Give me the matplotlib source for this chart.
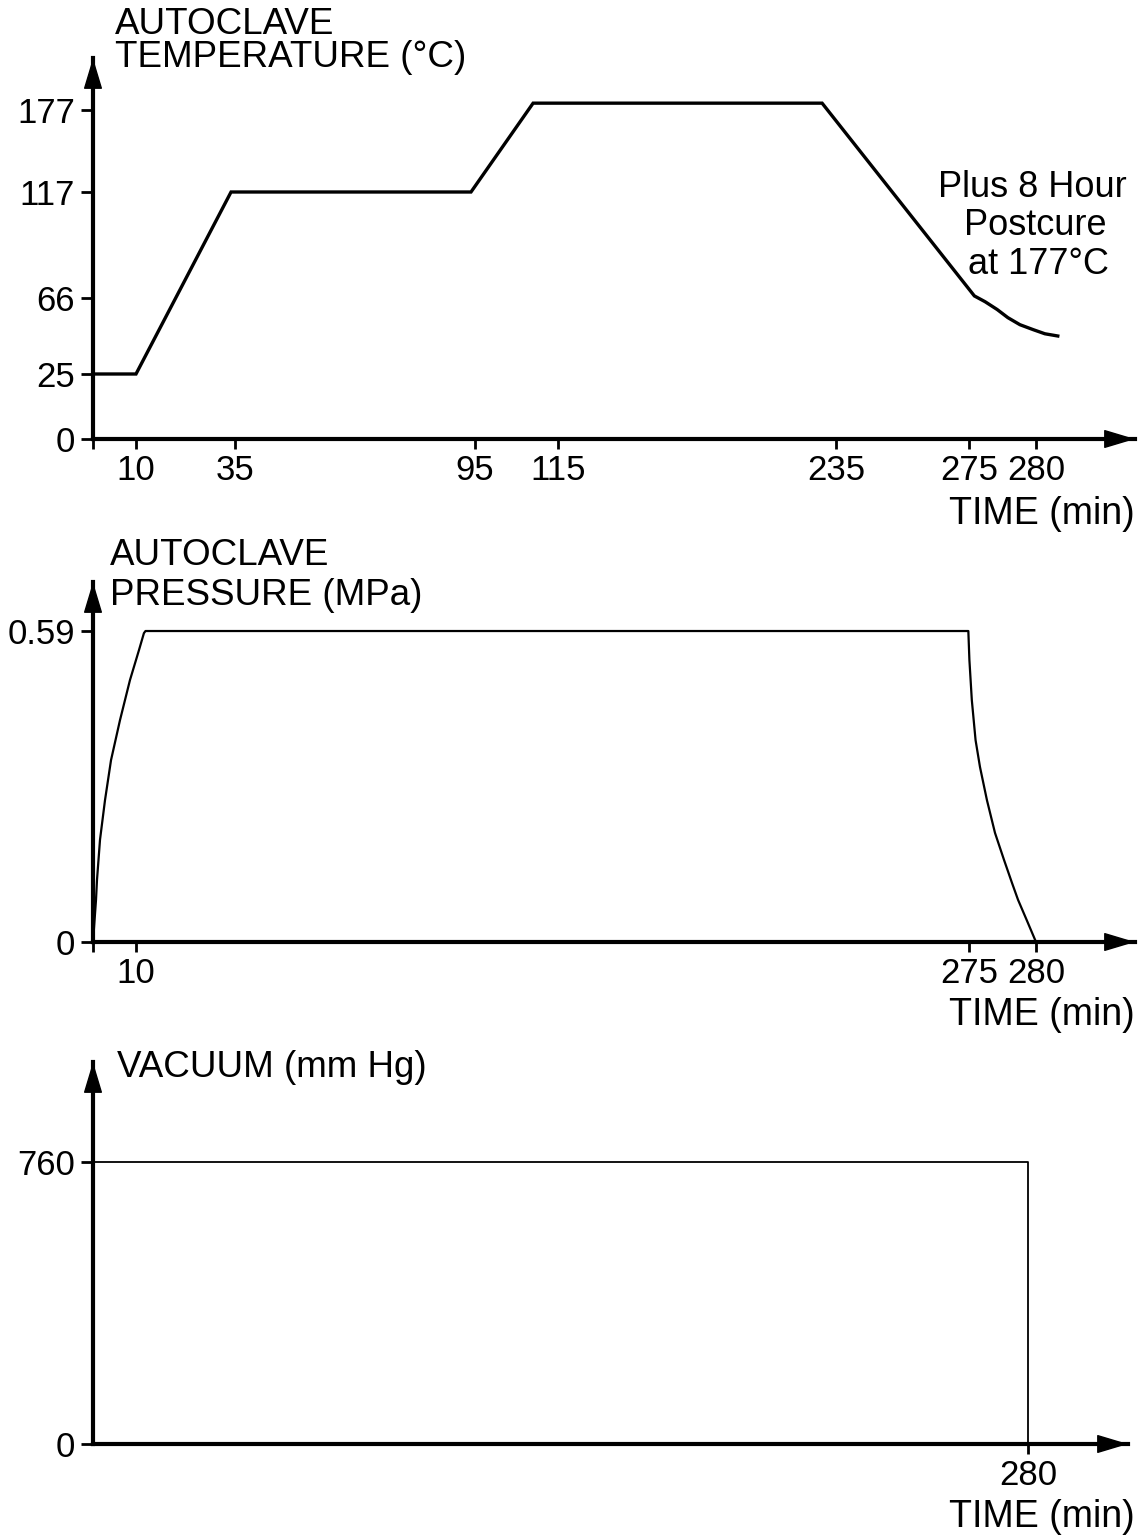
import numpy as np
import matplotlib
matplotlib.use("Agg")
import matplotlib.pyplot as plt

plt.rcParams["font.family"] = ["Liberation Sans", "DejaVu Sans"]

W, H = 1143, 1540

# ---------------------------------------------------------------------------
# Data read off the cure-cycle schematic
# ---------------------------------------------------------------------------

# autoclave temperature (min, degC)
TEMP_TIME = [0, 10, 34, 94, 109, 229, 275.4, 276.2, 277.1, 277.9, 278.8,
             279.8, 281.8, 284.4]
TEMP_C    = [25, 25, 117, 117, 182, 182, 67, 64.0, 59.8, 55.4, 51.6,
             48.9, 46.7, 45.5]
TEMP_XTICKS  = [0, 10, 35, 95, 115, 235, 275, 280]
TEMP_XLABELS = ["", "10", "35", "95", "115", "235", "275", "280"]
TEMP_YTICKS  = [0, 25, 66, 117, 177]

# autoclave pressure (min, MPa)
PRESS_TIME = [0, 0.7, 0.93, 1.28, 1.63, 2.79, 4.19, 6.28, 8.6, 10.76, 12.0,
              12.4, 274.8, 275.03, 275.21, 275.49, 275.82, 276.34, 276.94,
              277.61, 278.21, 278.66, 279.3, 280]
PRESS_MPA  = [0, 0.080, 0.118, 0.156, 0.194, 0.269, 0.345, 0.421, 0.497,
              0.554, 0.586, 0.59, 0.59, 0.535, 0.459, 0.383, 0.332, 0.269,
              0.207, 0.156, 0.112, 0.080, 0.042, 0]
PRESS_XTICKS  = [0, 10, 275, 280]
PRESS_XLABELS = ["", "10", "275", "280"]
PRESS_YTICKS  = [0, 0.59]

# vacuum (min, mm Hg)
VAC_TIME = [0, 0, 280, 280]
VAC_MMHG = [0, 760, 760, 0]
VAC_XTICKS  = [280]
VAC_YTICKS  = [0, 760]

# the schematic time / temperature axes are not to scale: piecewise mapping
TIME_ANCHORS = [0, 10, 35, 95, 115, 235, 275, 280, 300]
TIME_PIXELS  = [93, 136, 235, 475, 558, 836, 969, 1036, 1135]
TEMP_ANCHORS = [0, 25, 66, 117, 177, 215]
TEMP_PIXELS  = [0, 65, 141, 247, 329, 381]


def _piecewise(src, dst):
    fwd = lambda v: np.interp(v, src, dst)
    inv = lambda v: np.interp(v, dst, src)
    return fwd, inv


def _rect(x0, y_top, x1, y_bot):
    return [x0 / W, 1 - y_bot / H, (x1 - x0) / W, (y_bot - y_top) / H]


def _fig_text(fig, x, y, s, size=26.5, **kw):
    fig.text(x / W, 1 - y / H, s, fontsize=size, va="baseline", **kw)


def _style(ax):
    for side in ("top", "right"):
        ax.spines[side].set_visible(False)
    for side in ("left", "bottom"):
        ax.spines[side].set_linewidth(3.0)
    ax.tick_params(axis="both", direction="out", width=2, labelsize=25, pad=4)
    ax.tick_params(axis="x", length=7)
    ax.tick_params(axis="y", length=9)
    head = dict(arrowstyle="-|>,head_length=1.0,head_width=0.3",
                mutation_scale=20, lw=1, color="black", shrinkA=0, shrinkB=0)
    ax.annotate("", xy=(1, 0), xytext=(0.96, 0), xycoords="axes fraction",
                arrowprops=head, annotation_clip=False)
    ax.annotate("", xy=(0, 1), xytext=(0, 0.9), xycoords="axes fraction",
                arrowprops=head, annotation_clip=False)


fig = plt.figure(figsize=(W / 100, H / 100), dpi=100)
fig.patch.set_facecolor("white")

# ---- temperature ----------------------------------------------------------
ax1 = fig.add_axes(_rect(93, 58, 1135, 439))
ax1.set_xscale("function", functions=_piecewise(TIME_ANCHORS, TIME_PIXELS))
ax1.set_yscale("function", functions=_piecewise(TEMP_ANCHORS, TEMP_PIXELS))
ax1.plot(TEMP_TIME, TEMP_C, color="black", lw=2.4, clip_on=False,
         solid_joinstyle="miter")
ax1.set_xlim(0, 300)
ax1.set_ylim(0, 215)
ax1.set_xticks(TEMP_XTICKS, TEMP_XLABELS)
ax1.set_yticks(TEMP_YTICKS, [str(v) for v in TEMP_YTICKS])
_style(ax1)

_fig_text(fig, 115, 34, "AUTOCLAVE")
_fig_text(fig, 115, 67, "TEMPERATURE (°C)")
_fig_text(fig, 1135, 524, "TIME (min)", size=27, ha="right")
_fig_text(fig, 1032, 197, "Plus 8 Hour", size=26, ha="center")
_fig_text(fig, 1035, 235, "Postcure", size=26, ha="center")
_fig_text(fig, 1038, 274, "at 177°C", size=26, ha="center")

# ---- pressure -------------------------------------------------------------
ax2 = fig.add_axes(_rect(93, 582, 1135, 942))
ax2.set_xscale("function", functions=_piecewise(TIME_ANCHORS, TIME_PIXELS))
ax2.plot(PRESS_TIME, PRESS_MPA, color="black", lw=1.6, clip_on=False)
ax2.set_xlim(0, 300)
ax2.set_ylim(0, 0.683)
ax2.set_xticks(PRESS_XTICKS, PRESS_XLABELS)
ax2.set_yticks(PRESS_YTICKS, ["0", "0.59"])
_style(ax2)

_fig_text(fig, 110, 565, "AUTOCLAVE")
_fig_text(fig, 110, 605, "PRESSURE (MPa)")
_fig_text(fig, 1135, 1025, "TIME (min)", size=27, ha="right")

# ---- vacuum ---------------------------------------------------------------
ax3 = fig.add_axes(_rect(93, 1062, 1128, 1444))
ax3.plot(VAC_TIME, VAC_MMHG, color="black", lw=1.3, clip_on=False)
ax3.set_xlim(0, 310)
ax3.set_ylim(0, 1029)
ax3.set_xticks(VAC_XTICKS, [str(v) for v in VAC_XTICKS])
ax3.set_yticks(VAC_YTICKS, [str(v) for v in VAC_YTICKS])
_style(ax3)

_fig_text(fig, 117, 1077, "VACUUM (mm Hg)")
_fig_text(fig, 1135, 1527, "TIME (min)", size=27, ha="right")

fig.savefig("out.png", dpi=100, facecolor="white")
